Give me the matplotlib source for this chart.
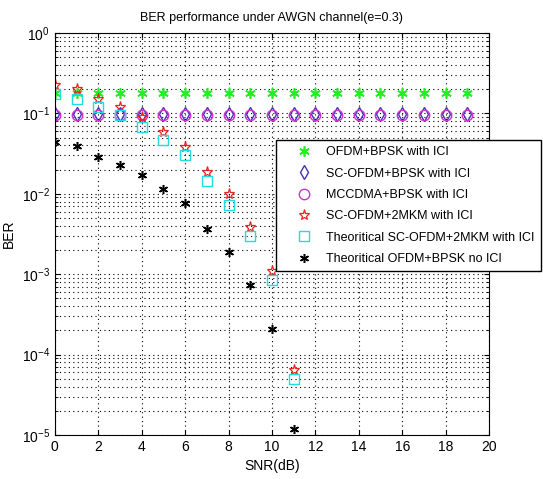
import matplotlib
matplotlib.use('Agg')
import matplotlib.pyplot as plt
import numpy as np

plt.rcParams['font.family'] = ['Liberation Sans', 'DejaVu Sans']
plt.rcParams['mathtext.fontset'] = 'custom'
plt.rcParams['mathtext.rm'] = 'Liberation Sans'
plt.rcParams['mathtext.default'] = 'regular'

# SNR points
snr = np.arange(0, 20)
snr_short = np.arange(0, 12)

# BER values
ber_ofdm_ici = [0.178] * 20
ber_scofdm_bpsk = [0.098] * 20
ber_mccdma = [0.096] * 20
ber_scofdm_2mkm = [0.225, 0.20, 0.15, 0.119, 0.089, 0.059, 0.038, 0.0188,
                   0.0099, 0.0039, 0.0011, 6.5e-5]
ber_theory_sc = [0.174, 0.152, 0.119, 0.095, 0.067, 0.047, 0.030, 0.0145,
                 0.0072, 0.0030, 0.00084, 4.9e-5]
ber_theory_ofdm = [0.044, 0.039, 0.029, 0.023, 0.017, 0.0115, 0.0076, 0.0036,
                   0.0019, 0.00074, 0.00021, 1.2e-5]

labels = ['OFDM+BPSK with ICI', 'SC-OFDM+BPSK with ICI', 'MCCDMA+BPSK with ICI',
          'SC-OFDM+2MKM with ICI', 'Theoritical SC-OFDM+2MKM with ICI',
          'Theoritical OFDM+BPSK no ICI']

asterisk = (6, 2, 0)  # matlab-like '*'

fig = plt.figure(figsize=(5.43, 4.79), dpi=100)
ax = fig.add_axes([0.101, 0.092, 0.7996, 0.839])

ax.semilogy(snr, ber_ofdm_ici, ls='none', marker=asterisk, color='#22ee22', ms=7.5, mew=1.2, label=labels[0])
ax.semilogy(snr, ber_scofdm_bpsk, 'd', color='#4433bb', mfc='none', ms=7, mew=1, label=labels[1])
ax.semilogy(snr, ber_mccdma, 'o', color='#cc33cc', mfc='none', ms=7.5, mew=1, label=labels[2])
ax.semilogy(snr_short, ber_scofdm_2mkm, '*', color='#ee2222', mfc='none', ms=8, mew=0.9, label=labels[3])
ax.semilogy(snr_short, ber_theory_sc, 's', color='#22dddd', mfc='none', ms=7, mew=1, label=labels[4])
ax.semilogy(snr_short, ber_theory_ofdm, ls='none', marker=asterisk, color='black', ms=6.5, mew=1.1, label=labels[5])

ax.set_xlim(0, 20)
ax.set_ylim(1e-5, 1)
ax.set_xticks(np.arange(0, 21, 2))
ax.grid(True, which='major', linestyle=(0, (1, 3)), color='black', linewidth=0.8)
ax.grid(True, which='minor', axis='y', linestyle=(0, (1, 3)), color='black', linewidth=0.8)
ax.tick_params(which='both', direction='in', top=True, right=True, labelsize=10)
ax.set_xlabel('SNR(dB)', fontsize=10)
ax.set_ylabel('BER', fontsize=10)
ax.set_title('BER performance under AWGN channel(e=0.3)', fontsize=9, pad=9)

leg = ax.legend(loc='upper left', bbox_to_anchor=(276 / 543, 1 - 140 / 479),
                bbox_transform=fig.transFigure, fontsize=9, fancybox=False,
                framealpha=1, edgecolor='black', borderaxespad=0,
                labelspacing=0.75, handlelength=3.4, handletextpad=0.1,
                borderpad=0.5)
leg.get_frame().set_linewidth(1.0)

fig.savefig('out.png', dpi=100)
